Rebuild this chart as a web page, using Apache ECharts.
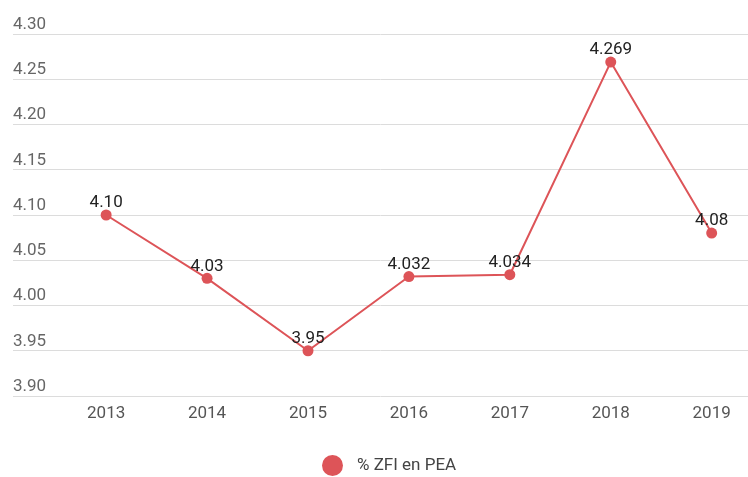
<!DOCTYPE html>
<html>
<head>
<meta charset="utf-8">
<script src="https://cdn.jsdelivr.net/npm/echarts@6/dist/echarts.min.js"></script>
<style>
  html, body { margin: 0; padding: 0; background: #fff; }
  #chart { width: 748px; height: 477px; }
</style>
</head>
<body>
<div id="chart"></div>
<script>
// données du graphique
const years = [2013, 2014, 2015, 2016, 2017, 2018, 2019];
const zfiValues = [4.10, 4.03, 3.95, 4.032, 4.034, 4.269, 4.08];
const zfiLabels = ['4.10', '4.03', '3.95', '4.032', '4.034', '4.269', '4.08'];
const seriesName = '% ZFI en PEA';

const chart = echarts.init(document.getElementById('chart'));

const option = {
  textStyle: { fontFamily: 'Roboto' },
  grid: { left: 13, right: 0, top: 34, bottom: 81 },
  legend: {
    data: [seriesName],
    left: 317,
    top: 450,
    icon: 'circle',
    itemWidth: 21,
    itemHeight: 21,
    textStyle: { fontSize: 17, color: '#444', fontFamily: 'Roboto', padding: [0, 0, 0, 9] }
  },
  xAxis: {
    type: 'value',
    min: 2012.077,
    max: 2019.36,
    axisLine: { show: false },
    axisTick: { show: false },
    splitLine: { show: false },
    axisLabel: {
      customValues: years,
      margin: 9,
      fontSize: 17,
      color: '#555',
      formatter: v => String(v)
    }
  },
  yAxis: {
    type: 'value',
    min: 3.9,
    max: 4.3,
    interval: 0.05,
    axisLine: { show: false },
    axisTick: { show: false },
    splitLine: { lineStyle: { color: '#dcdcdc', width: 1 } },
    axisLabel: {
      inside: true,
      margin: 0,
      verticalAlign: 'bottom',
      padding: [0, 0, 1, 0],
      fontSize: 17,
      color: '#666',
      formatter: v => v.toFixed(2)
    }
  },
  series: [
    {
      name: seriesName,
      type: 'line',
      data: years.map((y, i) => [y, zfiValues[i]]),
      symbol: 'circle',
      symbolSize: 11,
      lineStyle: { color: '#dd5458', width: 2 },
      itemStyle: { color: '#dd5458' },
      label: {
        show: true,
        position: 'top',
        distance: -2,
        fontSize: 17,
        color: '#222',
        formatter: p => zfiLabels[p.dataIndex]
      }
    }
  ]
};

chart.setOption(option);
</script>
</body>
</html>
